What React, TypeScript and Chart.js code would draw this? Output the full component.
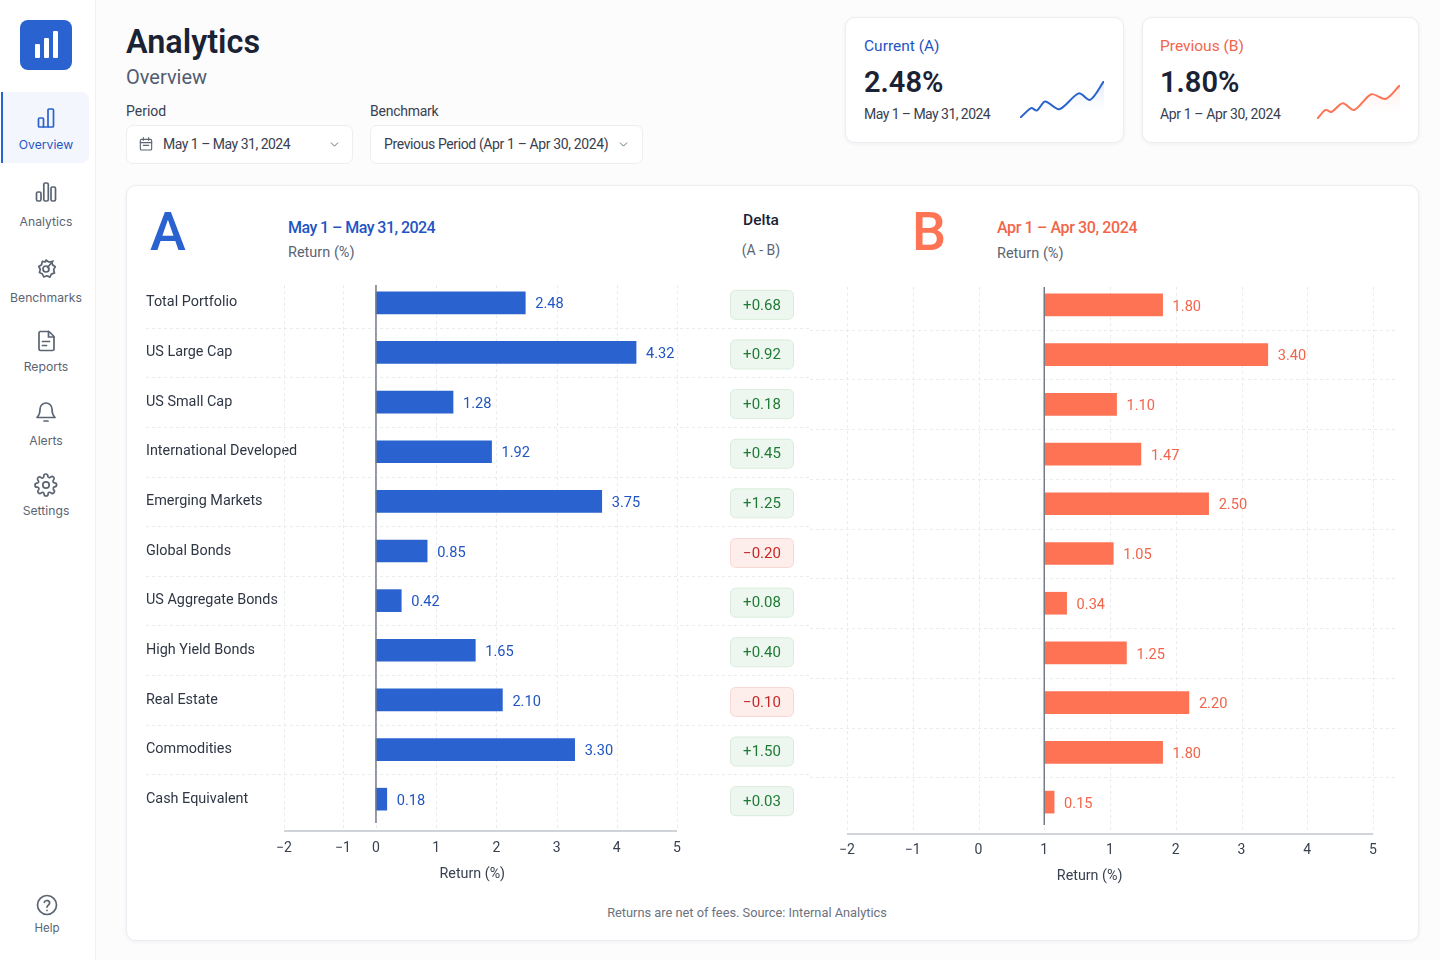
import React, { useEffect, useRef } from 'react';
import { Chart, LinearScale, registerables } from 'chart.js';

// value axis of chart A is squeezed left of zero, so it needs a bent linear scale
class BentScale extends LinearScale {
  static id = 'bent';
  static defaults = LinearScale.defaults;

  getPixelForValue(value: number) {
    const { knotValues, knotFractions } = (this.options as any);
    let i = 0;
    while (i < knotValues.length - 2 && value > knotValues[i + 1]) i++;
    const t = (value - knotValues[i]) / (knotValues[i + 1] - knotValues[i]);
    const f = knotFractions[i] + t * (knotFractions[i + 1] - knotFractions[i]);
    return this.left + f * this.width;
  }
}

Chart.register(...registerables, BentScale);

const categories = [
  'Total Portfolio',
  'US Large Cap',
  'US Small Cap',
  'International Developed',
  'Emerging Markets',
  'Global Bonds',
  'US Aggregate Bonds',
  'High Yield Bonds',
  'Real Estate',
  'Commodities',
  'Cash Equivalent',
];
const currentReturns = [2.48, 4.32, 1.28, 1.92, 3.75, 0.85, 0.42, 1.65, 2.1, 3.3, 0.18];
const previousReturns = [1.8, 3.4, 1.1, 1.47, 2.5, 1.05, 0.34, 1.25, 2.2, 1.8, 0.15];
const deltas = [0.68, 0.92, 0.18, 0.45, 1.25, -0.2, 0.08, 0.4, -0.1, 1.5, 0.03];

const axisATickLabels = ['−2', '−1', '0', '1', '2', '3', '4', '5'];
const axisBTickLabels = ['−2', '−1', '0', '1', '1', '2', '3', '4', '5'];

const sparkADays = [1, 5, 7, 10, 15, 22, 26, 31];
const sparkAValues = [0, 0.66, 0.5, 1.1, 0.59, 1.65, 1.21, 2.48];
const sparkBDays = [1, 4, 6, 10, 14, 20, 25, 30];
const sparkBValues = [0, 0.48, 0.37, 0.83, 0.48, 1.31, 1.06, 1.8];

const BLUE = '#2a62cf';
const BLUE_TEXT = '#1f55c2';
const CORAL = '#ff7355';
const CORAL_TEXT = '#f1654a';
const INK = '#1a2233';
const BODY = '#394150';
const MUTED = '#5b6472';
const GRID = '#e9ebef';
const FONT = 'Roboto, sans-serif';

interface BarsProps {
  id: string;
  left: number;
  top: number;
  width: number;
  height: number;
  values: number[];
  color: string;
  textColor: string;
  tickLabels: string[];
  xScale: any;
  padLeft: number;
  padRight: number;
  padTop: number;
  xHeight: number;
  yWidth: number;
  tickPadding: number;
  showNames: boolean;
  titleAt: number;
  titleDrop: number;
  rowLines: [number, number];
  lineOffset: [number, number];
  showDeltas: boolean;
}

const ReturnBars: React.FC<BarsProps> = (p) => {
  const ref = useRef<HTMLCanvasElement>(null);

  useEffect(() => {
    const frame = {
      id: 'frame',
      beforeDatasetsDraw(chart: any) {
        const { ctx, chartArea, scales } = chart;
        const { x, y } = scales;
        ctx.save();
        ctx.strokeStyle = GRID;
        ctx.lineWidth = 1;
        ctx.setLineDash([3, 3]);
        x.ticks.forEach((t: any) => {
          const px = Math.round(x.getPixelForValue(t.value)) + 0.5;
          ctx.beginPath();
          ctx.moveTo(px, chartArea.top + p.lineOffset[0]);
          ctx.lineTo(px, chartArea.bottom + 7);
          ctx.stroke();
        });
        for (let i = 0; i < categories.length - 1; i++) {
          const py = Math.round((y.getPixelForValue(i) + y.getPixelForValue(i + 1)) / 2) + 0.5;
          ctx.beginPath();
          ctx.moveTo(p.rowLines[0], py);
          ctx.lineTo(p.rowLines[1], py);
          ctx.stroke();
        }
        ctx.setLineDash([]);
        ctx.strokeStyle = '#d0d3d9';
        ctx.lineWidth = 2;
        ctx.beginPath();
        ctx.moveTo(chartArea.left, chartArea.bottom + 7);
        ctx.lineTo(chartArea.right, chartArea.bottom + 7);
        ctx.stroke();
        ctx.restore();
      },
      afterDatasetsDraw(chart: any) {
        const { ctx, chartArea, scales } = chart;
        const { x, y } = scales;
        ctx.save();
        // zero line
        ctx.strokeStyle = '#767c87';
        ctx.lineWidth = 1.5;
        ctx.beginPath();
        const zero = x.getPixelForValue(0);
        ctx.moveTo(zero, chartArea.top + p.lineOffset[0]);
        ctx.lineTo(zero, chartArea.bottom + p.lineOffset[1]);
        ctx.stroke();

        // value labels
        ctx.font = `14.6px ${FONT}`;
        ctx.fillStyle = p.textColor;
        ctx.textBaseline = 'middle';
        ctx.textAlign = 'left';
        chart.getDatasetMeta(0).data.forEach((bar: any, i: number) => {
          ctx.fillText(p.values[i].toFixed(2), bar.x + 10, bar.y + 2);
        });

        // axis title
        ctx.font = `14.3px ${FONT}`;
        ctx.fillStyle = BODY;
        ctx.textAlign = 'center';
        ctx.fillText('Return (%)', x.getPixelForValue(p.titleAt), chartArea.bottom + p.titleDrop);

        if (p.showDeltas) {
          deltas.forEach((d, i) => {
            const cy = y.getPixelForValue(i) + 2;
            const up = d >= 0;
            ctx.beginPath();
            ctx.roundRect(604.5, cy - 14.5, 63, 29, 5);
            ctx.fillStyle = up ? '#eef7ef' : '#fdeeec';
            ctx.fill();
            ctx.strokeStyle = up ? '#d8ecdb' : '#f8d8d4';
            ctx.lineWidth = 1;
            ctx.stroke();
            ctx.fillStyle = up ? '#1f7a35' : '#c62828';
            ctx.font = `15px ${FONT}`;
            ctx.fillText((up ? '+' : '−') + Math.abs(d).toFixed(2), 636, cy + 1);
          });
        }
        ctx.restore();
      },
    };

    const chart = new Chart(ref.current!, {
      type: 'bar',
      data: {
        labels: categories,
        datasets: [{ data: p.values, backgroundColor: p.color, barThickness: 22, borderSkipped: false }],
      },
      plugins: [frame],
      options: {
        indexAxis: 'y',
        animation: false,
        responsive: false,
        events: [],
        layout: {
          autoPadding: false,
          padding: { left: p.padLeft, right: p.padRight, top: p.padTop, bottom: 0 },
        },
        plugins: { legend: { display: false }, tooltip: { enabled: false } },
        scales: {
          x: {
            ...p.xScale,
            position: 'bottom',
            grid: { display: false, drawTicks: false },
            border: { display: false },
            afterFit: (s: any) => {
              s.height = p.xHeight;
            },
            ticks: {
              stepSize: 1,
              autoSkip: false,
              maxRotation: 0,
              padding: p.tickPadding,
              color: BODY,
              font: { family: FONT, size: 14 },
              callback: (_v: any, i: number) => p.tickLabels[i],
            },
          },
          y: {
            display: p.showNames,
            grid: { display: false, drawTicks: false },
            border: { display: false },
            afterFit: (s: any) => {
              s.width = p.yWidth;
            },
            ticks: {
              autoSkip: false,
              // mirrored so long names are not clipped at the plot edge
              mirror: true,
              padding: -p.yWidth,
              color: '#2f3644',
              font: { family: FONT, size: 14.4 },
            },
          },
        },
      } as any,
    });
    return () => chart.destroy();
  }, []);

  return (
    <canvas
      ref={ref}
      id={p.id}
      width={p.width}
      height={p.height}
      style={{ position: 'absolute', left: p.left, top: p.top, width: p.width, height: p.height }}
    />
  );
};

interface SparkProps {
  left: number;
  top: number;
  width: number;
  height: number;
  days: number[];
  values: number[];
  color: string;
  fade: string;
}

const Spark: React.FC<SparkProps> = ({ left, top, width, height, days, values, color, fade }) => {
  const ref = useRef<HTMLCanvasElement>(null);

  useEffect(() => {
    const chart = new Chart(ref.current!, {
      type: 'line',
      data: {
        datasets: [
          {
            data: days.map((d, i) => ({ x: d, y: values[i] })),
            borderColor: color,
            borderWidth: 2,
            pointRadius: 0,
            tension: 0.3,
            fill: 'start',
            backgroundColor: (c: any) => {
              const area = c.chart.chartArea;
              if (!area) return fade;
              const g = c.chart.ctx.createLinearGradient(0, area.top, 0, area.bottom);
              g.addColorStop(0, fade);
              g.addColorStop(1, 'rgba(255,255,255,0)');
              return g;
            },
          },
        ],
      },
      options: {
        animation: false,
        responsive: false,
        events: [],
        layout: { autoPadding: false, padding: { left: 2, right: 2, top: 5, bottom: 5 } },
        plugins: { legend: { display: false }, tooltip: { enabled: false } },
        scales: {
          x: { type: 'linear', display: false, min: days[0], max: days[days.length - 1] },
          y: { display: false, min: 0, max: values[values.length - 1] },
        },
      } as any,
    });
    return () => chart.destroy();
  }, []);

  return (
    <canvas
      ref={ref}
      width={width}
      height={height}
      style={{ position: 'absolute', left, top, width, height }}
    />
  );
};

const Text: React.FC<{
  x: number;
  y: number;
  size: number;
  color: string;
  weight?: number;
  center?: boolean;
  family?: string;
  tight?: number;
  children: React.ReactNode;
}> = ({ x, y, size, color, weight = 400, center, family = FONT, tight = 0, children }) => (
  <div
    style={{
      position: 'absolute',
      left: x,
      top: y,
      transform: center ? 'translate(-50%, -50%)' : 'translateY(-50%)',
      fontFamily: family,
      fontSize: size,
      fontWeight: weight,
      letterSpacing: tight,
      color,
      whiteSpace: 'nowrap',
      lineHeight: 1.2,
    }}
  >
    {children}
  </div>
);

const Box: React.FC<{ x: number; y: number; w: number; h: number; shadow?: boolean; radius?: number }> = ({
  x,
  y,
  w,
  h,
  shadow,
  radius = 10,
}) => (
  <div
    style={{
      position: 'absolute',
      left: x,
      top: y,
      width: w,
      height: h,
      boxSizing: 'border-box',
      background: '#fff',
      border: '1px solid #eceef2',
      borderRadius: radius,
      boxShadow: shadow ? '0 1px 4px rgba(30,40,60,0.06)' : undefined,
    }}
  />
);

const Icon: React.FC<{ cx: number; cy: number; color?: string; size?: number; children: React.ReactNode }> = ({
  cx,
  cy,
  color = '#5b6472',
  size = 24,
  children,
}) => (
  <svg
    width={size}
    height={size}
    viewBox="0 0 24 24"
    fill="none"
    stroke={color}
    strokeWidth={1.7}
    strokeLinecap="round"
    strokeLinejoin="round"
    style={{ position: 'absolute', left: cx - size / 2, top: cy - size / 2 }}
  >
    {children}
  </svg>
);

const SIDE = 'Inter, sans-serif';

const Sidebar = () => (
  <>
    <div
      style={{
        position: 'absolute',
        left: 0,
        top: 0,
        width: 96,
        height: 960,
        boxSizing: 'border-box',
        background: '#fff',
        borderRight: '1.5px solid #f0f1f4',
      }}
    />
    <div style={{ position: 'absolute', left: 20, top: 20, width: 52, height: 50, borderRadius: 8, background: '#2a62cf' }} />
    <svg width={52} height={50} style={{ position: 'absolute', left: 20, top: 20 }}>
      <rect x={15} y={24} width={5} height={14} rx={1} fill="#fff" />
      <rect x={24} y={18} width={5} height={20} rx={1} fill="#fff" />
      <rect x={33} y={11} width={5} height={27} rx={1} fill="#fff" />
    </svg>
    <div style={{ position: 'absolute', left: 2, top: 92, width: 87, height: 71, background: '#f3f6fc', borderRadius: '0 8px 8px 0' }} />
    <div style={{ position: 'absolute', left: 1, top: 92, width: 2, height: 71, background: '#2a62cf' }} />

    <Icon cx={46} cy={118} color="#2a62cf">
      <rect x="4.5" y="12" width="5" height="9" rx="1" />
      <rect x="14" y="3" width="5.5" height="18" rx="1" />
      <path d="M9.5 21H14" />
    </Icon>
    <Text x={46} y={145} size={12.2} color={BLUE_TEXT} center family={SIDE}>Overview</Text>

    <Icon cx={46} cy={192}>
      <rect x="2.5" y="12" width="4.5" height="9" rx="1.5" />
      <rect x="9.8" y="3" width="4.5" height="18" rx="1.5" />
      <rect x="17" y="7" width="4.5" height="14" rx="1.5" />
    </Icon>
    <Text x={46} y={222} size={12.2} color={MUTED} center family={SIDE}>Analytics</Text>

    <Icon cx={46} cy={269}>
      <path d="M12 3l2.6 2 3.3-.4.6 3.2 2.7 2-1.6 2.9.9 3.2-3.1 1.2-1.5 3-3-1.3-3.1 1.2-1.4-3-3-1.4.9-3.1-1.5-3 2.8-1.8.7-3.3 3.2.5z" />
      <circle cx="12" cy="12" r="3" />
      <path d="M13.5 10.5L19 4" />
    </Icon>
    <Text x={46} y={298} size={12.2} color={MUTED} center family={SIDE}>Benchmarks</Text>

    <Icon cx={46} cy={341}>
      <path d="M6 2.5h9l5 5V20a1.5 1.5 0 0 1-1.5 1.5h-12A1.5 1.5 0 0 1 5 20V4a1.5 1.5 0 0 1 1-1.5z" />
      <path d="M14.5 2.5V8h5.5" />
      <path d="M8.5 12.5h7M8.5 16.5h4" />
    </Icon>
    <Text x={46} y={367} size={12.2} color={MUTED} center family={SIDE}>Reports</Text>

    <Icon cx={46} cy={412}>
      <path d="M12 3a6 6 0 0 0-6 6c0 5-2 7.5-3 8.5h18c-1-1-3-3.5-3-8.5a6 6 0 0 0-6-6z" />
      <path d="M10 21h4" />
    </Icon>
    <Text x={46} y={441} size={12.2} color={MUTED} center family={SIDE}>Alerts</Text>

    <Icon cx={46} cy={485}>
      <circle cx="12" cy="12" r="3.2" />
      <path d="M19.4 15a1.6 1.6 0 0 0 .3 1.8l.1.1a2 2 0 1 1-2.9 2.9l-.1-.1a1.6 1.6 0 0 0-2.7 1.1V21a2 2 0 0 1-4 0v-.1a1.6 1.6 0 0 0-2.7-1.1l-.1.1a2 2 0 1 1-2.9-2.9l.1-.1a1.6 1.6 0 0 0-1.1-2.7H3a2 2 0 0 1 0-4h.1a1.6 1.6 0 0 0 1.1-2.7l-.1-.1a2 2 0 1 1 2.9-2.9l.1.1a1.6 1.6 0 0 0 2.7-1.1V3a2 2 0 0 1 4 0v.1a1.6 1.6 0 0 0 2.7 1.1l.1-.1a2 2 0 1 1 2.9 2.9l-.1.1a1.6 1.6 0 0 0 1.1 2.7h.1a2 2 0 0 1 0 4h-.1a1.6 1.6 0 0 0-1.2 1.1z" />
    </Icon>
    <Text x={46} y={511} size={12.2} color={MUTED} center family={SIDE}>Settings</Text>

    <Icon cx={46.5} cy={905}>
      <circle cx="12" cy="12" r="9.5" />
      <path d="M9.3 9.3a2.8 2.8 0 0 1 5.4.8c0 1.8-2.7 2.3-2.7 4" />
      <path d="M12 17.4h.01" />
    </Icon>
    <Text x={47} y={929} size={11.5} color={MUTED} center family={SIDE}>Help</Text>
  </>
);

const Filters = () => (
  <>
    <Text x={126} y={111} size={14} color={BODY}>Period</Text>
    <Box x={126} y={125} w={227} h={39} radius={7} />
    <Icon cx={146} cy={144} size={16} color={MUTED}>
      <rect x="3.5" y="5" width="17" height="16" rx="2" />
      <path d="M3.5 10h17M8 2.5v4M16 2.5v4M8 14h8" />
    </Icon>
    <Text x={163} y={144} size={14} color={BODY} tight={-0.5}>May 1 – May 31, 2024</Text>
    <Icon cx={334} cy={144} size={13} color={MUTED}>
      <path d="M6 9l6 6 6-6" />
    </Icon>

    <Text x={370} y={111} size={14} color={BODY} tight={-0.25}>Benchmark</Text>
    <Box x={370} y={125} w={273} h={39} radius={7} />
    <Text x={384} y={144} size={14} color={BODY} tight={-0.38}>Previous Period (Apr 1 – Apr 30, 2024)</Text>
    <Icon cx={623} cy={144} size={13} color={MUTED}>
      <path d="M6 9l6 6 6-6" />
    </Icon>
  </>
);

const App = () => (
  <div
    style={{
      position: 'absolute',
      left: 0,
      top: 0,
      width: 1440,
      height: 960,
      overflow: 'hidden',
      background: '#fcfcfd',
    }}
  >
    <Sidebar />

    <Text x={126} y={42} size={32.4} color={INK} weight={600}>Analytics</Text>
    <Text x={126} y={77} size={20} color="#525c70">Overview</Text>
    <Filters />

    <Box x={845} y={17} w={279} h={126} shadow />
    <Text x={864} y={46} size={15.5} color={BLUE_TEXT}>Current (A)</Text>
    <Text x={864} y={82} size={29} color={INK} weight={600}>2.48%</Text>
    <Text x={864} y={114} size={14} color={BODY} tight={-0.55}>May 1 – May 31, 2024</Text>
    <Spark left={1018} top={76} width={88} height={47} days={sparkADays} values={sparkAValues} color={BLUE} fade="rgba(42,98,207,0.16)" />

    <Box x={1142} y={17} w={277} h={126} shadow />
    <Text x={1160} y={46} size={15.5} color={CORAL_TEXT}>Previous (B)</Text>
    <Text x={1160} y={82} size={29} color={INK} weight={600}>1.80%</Text>
    <Text x={1160} y={114} size={14} color={BODY} tight={-0.37}>Apr 1 – Apr 30, 2024</Text>
    <Spark left={1315} top={80} width={87} height={44} days={sparkBDays} values={sparkBValues} color={CORAL} fade="rgba(255,115,85,0.16)" />

    <Box x={126} y={185} w={1293} h={756} shadow />

    <Text x={150} y={232} size={54} color={BLUE} weight={500}>A</Text>
    <Text x={288} y={228} size={16} color={BLUE_TEXT} weight={500} tight={-0.55}>May 1 – May 31, 2024</Text>
    <Text x={288} y={253} size={14.5} color={MUTED}>Return (%)</Text>
    <Text x={761} y={220} size={15.5} color={INK} weight={500} center>Delta</Text>
    <Text x={761} y={250} size={14} color={MUTED} center>(A - B)</Text>
    <Text x={912} y={232} size={54} color={CORAL} weight={500}>B</Text>
    <Text x={997} y={228} size={16} color={CORAL_TEXT} weight={500} tight={-0.37}>Apr 1 – Apr 30, 2024</Text>
    <Text x={997} y={254} size={14.5} color={MUTED}>Return (%)</Text>

    <ReturnBars
      id="chart-a"
      left={126}
      top={270}
      width={684}
      height={620}
      values={currentReturns}
      color={BLUE}
      textColor={BLUE_TEXT}
      tickLabels={axisATickLabels}
      xScale={{
        type: 'bent',
        min: -2,
        max: 5,
        knotValues: [-2, -1, 0, 5],
        knotFractions: [0, 0.15, 0.234, 1],
      }}
      padLeft={20}
      padRight={133}
      padTop={8}
      xHeight={66}
      yWidth={138}
      tickPadding={16}
      showNames
      titleAt={1.6}
      titleDrop={50}
      rowLines={[20, 684]}
      lineOffset={[7, -1]}
      showDeltas
    />
    <ReturnBars
      id="chart-b"
      left={810}
      top={272}
      width={610}
      height={620}
      values={previousReturns}
      color={CORAL}
      textColor={CORAL_TEXT}
      tickLabels={axisBTickLabels}
      xScale={{ type: 'linear', min: -3, max: 5 }}
      padLeft={37}
      padRight={47}
      padTop={8}
      xHeight={65}
      yWidth={0}
      tickPadding={15}
      showNames={false}
      titleAt={0.69}
      titleDrop={49}
      rowLines={[0, 585]}
      lineOffset={[7, -2]}
      showDeltas={false}
    />

    <Text x={747} y={913} size={12.8} color="#6b7280" center>Returns are net of fees. Source: Internal Analytics</Text>
  </div>
);

export default App;
